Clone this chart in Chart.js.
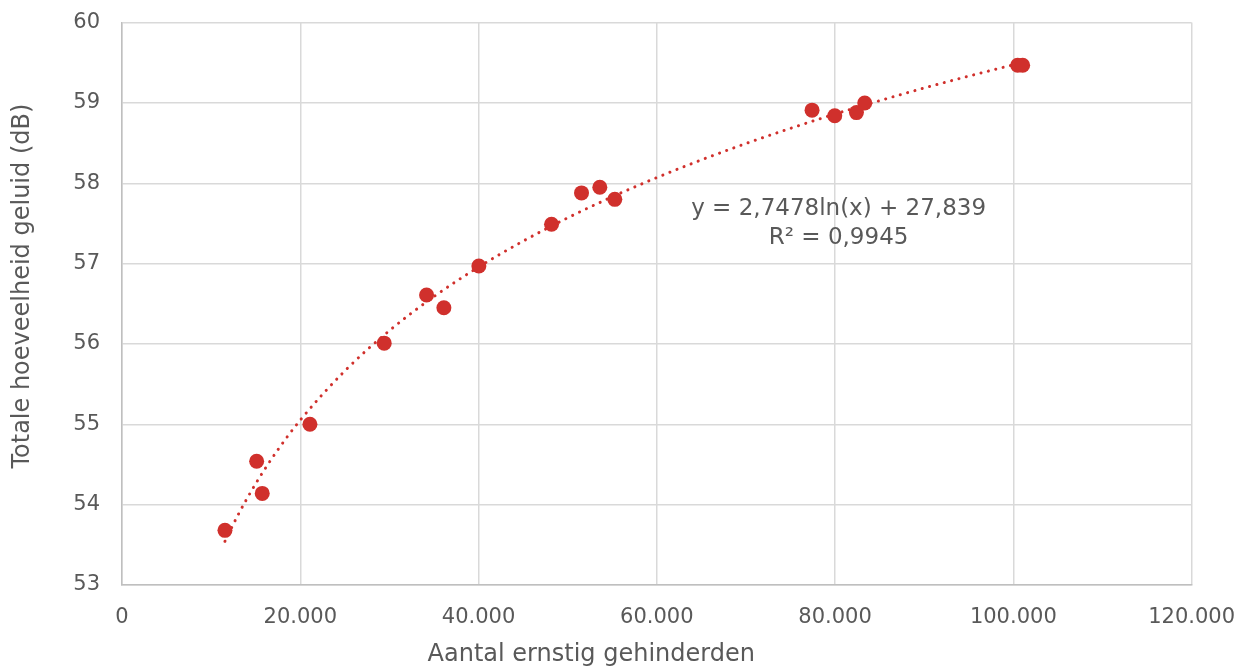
<!DOCTYPE html>
<html><head><meta charset="utf-8">
<script src="https://cdn.jsdelivr.net/npm/chart.js@4"></script>
<style>html,body{margin:0;padding:0;background:#fff;overflow:hidden}#wrap{width:1244px;height:669px;overflow:hidden;position:relative}#c{position:absolute;left:0;top:-12px}</style>
</head><body><div id="wrap"><canvas id="c" width="1255" height="681"></canvas></div>
<script>
const pointX = [11551,15106,15734,21084,29417,34172,36112,40037,48191,51556,53608,55290,77420,79966,82399,83330,100486,101047];
const pointY = [53.68,54.54,54.14,55.00,56.01,56.61,56.45,56.97,57.49,57.88,57.95,57.80,58.91,58.84,58.88,59.00,59.47,59.47];
const trendX = [11551,13000,15000,17500,20000,25000,30000,35000,40000,45000,50000,55000,60000,65000,70000,75000,80000,85000,90000,95000,101047];
const trendY = [53.544,53.868,54.261,54.685,55.052,55.665,56.166,56.590,56.957,57.280,57.570,57.832,58.071,58.291,58.495,58.684,58.862,59.028,59.186,59.334,59.504];
const xTicks = [0,20000,40000,60000,80000,100000,120000];
const yTicks = [53,54,55,56,57,58,59,60];
const eqLines = ['y = 2,7478ln(x) + 27,839','R² = 0,9945'];
const eqPos = {x:80400, y:57.68};
const xTitle = 'Aantal ernstig gehinderden';
const yTitle = 'Totale hoeveelheid geluid (dB)';

const FONT = '"DejaVu Sans", "Open Sans", sans-serif';
const TXT = '#595959';
const RED = '#D0302C';

const textPlugin = {
  id:'texts',
  afterDatasetsDraw(chart){
    const {ctx, scales:{x,y}} = chart;
    ctx.save();
    ctx.fillStyle = TXT;
    ctx.textAlign = 'center';
    ctx.textBaseline = 'middle';
    // equation
    ctx.font = '23px ' + FONT;
    const px = x.getPixelForValue(eqPos.x), py = y.getPixelForValue(eqPos.y);
    eqLines.forEach((t,i)=>ctx.fillText(t, px, py + i*29));
    // x title
    ctx.font = '24px ' + FONT;
    ctx.fillText(xTitle, x.getPixelForValue(52650), x.top + 70);
    // y title
    ctx.translate(y.left + 23, y.getPixelForValue(56.72));
    ctx.rotate(-Math.PI/2);
    ctx.fillText(yTitle, 0, 0);
    ctx.restore();
  }
};

new Chart(document.getElementById('c'), {
  type:'scatter',
  data:{datasets:[
    {label:'trend', type:'line', data:trendX.map((v,i)=>({x:v,y:trendY[i]})),
     borderColor:RED, borderWidth:3, borderDash:[0.1,7.5], borderCapStyle:'round',
     pointRadius:0, fill:false, cubicInterpolationMode:'monotone', order:2},
    {label:'data', data:pointX.map((v,i)=>({x:v,y:pointY[i]})),
     backgroundColor:RED, borderColor:RED, pointRadius:7.5, borderWidth:0, order:1}
  ]},
  options:{
    responsive:false, animation:false,
    layout:{padding:{top:0,right:0,left:0,bottom:0}},
    plugins:{legend:{display:false}, tooltip:{enabled:false}},
    scales:{
      x:{type:'linear', min:0, max:120000,
        afterBuildTicks(s){s.ticks = xTicks.map(v=>({value:v}));},
        afterFit(s){s.height = 84;},
        grid:{color:'#D9D9D9', lineWidth:1.5, drawTicks:false},
        border:{color:'#BFBFBF', width:1.5},
        ticks:{padding:20, color:TXT, font:{family:FONT,size:21},
          callback:v=> v===0 ? '0' : v.toLocaleString('de-DE')}
      },
      y:{type:'linear', min:53, max:60,
        afterBuildTicks(s){s.ticks = yTicks.map(v=>({value:v}));},
        afterFit(s){s.width = 122;},
        grid:{color:'#D9D9D9', lineWidth:1.5, drawTicks:false},
        border:{color:'#BFBFBF', width:1.5},
        ticks:{padding:22, color:TXT, font:{family:FONT,size:21}}
      }
    }
  },
  plugins:[textPlugin]
});
</script></body></html>
